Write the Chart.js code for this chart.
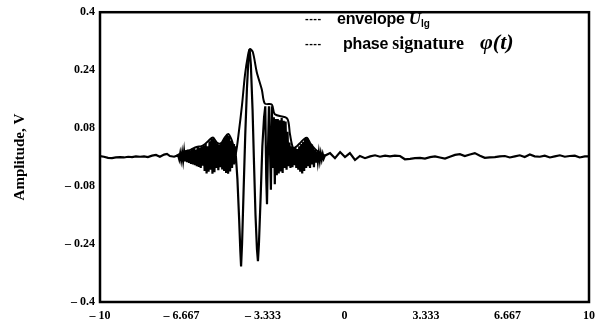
<!DOCTYPE html>
<html lang="en">
<head>
    <meta charset="UTF-8">
    <title>Amplitude vs time</title>
    <style>
        html, body { margin: 0; padding: 0; background: #fff; }
        .wrap { position: relative; width: 603px; height: 324px; }
        .key { position: absolute; left: 305px; color: #000; white-space: nowrap; line-height: 1; }
        .key .dash { display: inline-block; width: 22px; font: bold 11px "Liberation Sans", sans-serif; letter-spacing: 0.5px; vertical-align: 2px; margin-right: 10px; }
        .key .sans { font: bold 16px "Liberation Sans", Arial, sans-serif; letter-spacing: -0.2px; }
        .key .serif { font: bold 18px "Liberation Serif", "Times New Roman", serif; }
        .key .it { font: italic bold 17px "Liberation Serif", serif; }
        .key sub { font: bold 10px "Liberation Sans", sans-serif; vertical-align: -3px; }
        .key .phi { font: italic bold 22px "Liberation Serif", serif; margin-left: 16px; }
    </style>
</head>
<body>
<div class="wrap">
    <canvas id="wave" width="603" height="324"></canvas>
    <div class="key" style="top: 9px;">
        <span class="dash">----</span><span class="sans">envelope</span> <span class="it">U</span><sub>lg</sub>
    </div>
    <div class="key" style="top: 29px;">
        <span class="dash">----</span><span class="sans" style="margin-left:6px">phase</span> <span class="serif">signature</span><span class="phi">&phi;(t)</span>
    </div>
</div>
<script src="https://cdn.jsdelivr.net/npm/chart.js@4.4.1/dist/chart.umd.min.js"></script>
<script>
    // axis ticks
    const timeTicks = [-10, -6.667, -3.333, 0, 3.333, 6.667, 10];
    const ampTicks = [-0.4, -0.24, -0.08, 0.08, 0.24, 0.4];

    // recorded signal, [t, volts]: quiet lead-in
    const quietBefore = [
        [-10.0, 0.003], [-9.84, 0.001], [-9.67, -0.002], [-9.51, -0.003], [-9.35, -0.001],
        [-9.18, 0.000], [-9.02, -0.001], [-8.85, 0.001], [-8.69, 0.000], [-8.53, 0.002],
        [-8.36, 0.001], [-8.20, 0.002], [-8.04, 0.000], [-7.87, 0.004], [-7.71, 0.006],
        [-7.55, 0.001], [-7.38, 0.007], [-7.26, 0.009], [-7.14, 0.003], [-6.97, 0.001],
        [-6.85, 0.004]
    ];

    // precursor ripple
    const precursor = [
        [-6.80, 0.004], [-6.76, -0.006], [-6.72, 0.010], [-6.68, -0.008], [-6.64, 0.012],
        [-6.60, -0.010], [-6.56, 0.015], [-6.52, -0.012], [-6.48, 0.018], [-6.44, -0.014],
        [-6.40, 0.020], [-6.36, -0.016], [-6.32, 0.017], [-6.28, -0.019], [-6.24, 0.022],
        [-6.20, -0.020], [-6.16, 0.024], [-6.12, -0.022], [-6.08, 0.021], [-6.04, -0.025],
        [-6.00, 0.030], [-5.96, -0.027], [-5.92, 0.026], [-5.88, -0.030], [-5.84, 0.028],
        [-5.80, -0.024], [-5.76, 0.032], [-5.72, -0.038], [-5.68, 0.036], [-5.64, -0.045],
        [-5.60, 0.030], [-5.56, -0.040], [-5.52, 0.044], [-5.48, -0.035], [-5.44, 0.050],
        [-5.40, -0.046], [-5.36, 0.053], [-5.32, -0.042], [-5.28, 0.045], [-5.24, -0.030],
        [-5.20, 0.038], [-5.16, -0.036], [-5.12, 0.034], [-5.08, -0.028], [-5.04, 0.040],
        [-5.00, -0.034], [-4.96, 0.046], [-4.92, -0.038], [-4.88, 0.055], [-4.84, -0.044],
        [-4.80, 0.062], [-4.76, -0.046], [-4.72, 0.058], [-4.68, -0.040], [-4.64, 0.045],
        [-4.60, -0.030], [-4.56, 0.036], [-4.52, -0.020], [-4.48, 0.030]
    ];

    // main pulse and its tail
    const mainPulse = [
        [-4.44, 0.000], [-4.38, -0.060], [-4.31, -0.170], [-4.26, -0.260], [-4.23, -0.302],
        [-4.19, -0.240], [-4.13, -0.100], [-4.06, 0.060], [-3.99, 0.190], [-3.93, 0.270],
        [-3.88, 0.298], [-3.83, 0.255], [-3.76, 0.130], [-3.70, -0.020], [-3.64, -0.160],
        [-3.58, -0.255], [-3.54, -0.287], [-3.50, -0.240], [-3.43, -0.110], [-3.36, 0.030],
        [-3.29, 0.110], [-3.24, 0.140], [-3.20, -0.060], [-3.17, -0.130], [-3.13, 0.020],
        [-3.09, 0.140], [-3.05, 0.030], [-3.01, -0.090], [-2.97, 0.140], [-2.93, -0.030],
        [-2.89, 0.110], [-2.85, -0.075], [-2.81, 0.105], [-2.77, -0.050], [-2.73, 0.105],
        [-2.69, -0.045], [-2.65, 0.102], [-2.61, -0.040], [-2.57, 0.108], [-2.53, -0.044],
        [-2.49, 0.100], [-2.45, -0.030], [-2.41, 0.098], [-2.37, -0.035], [-2.33, 0.070],
        [-2.29, -0.025], [-2.25, 0.040], [-2.21, -0.030], [-2.17, 0.030], [-2.13, -0.028],
        [-2.09, 0.025], [-2.05, -0.022], [-2.01, 0.028], [-1.97, -0.030], [-1.93, 0.022],
        [-1.89, -0.035], [-1.85, 0.030], [-1.81, -0.040], [-1.77, 0.036], [-1.73, -0.045],
        [-1.69, 0.042], [-1.65, -0.038], [-1.61, 0.050], [-1.57, -0.030], [-1.53, 0.052],
        [-1.49, -0.025], [-1.45, 0.045], [-1.41, -0.030], [-1.37, 0.035], [-1.33, -0.020],
        [-1.29, 0.025], [-1.25, -0.028], [-1.21, 0.020], [-1.17, -0.015], [-1.13, 0.016],
        [-1.09, -0.012], [-1.05, 0.012], [-1.01, -0.010], [-0.97, 0.010], [-0.93, -0.006],
        [-0.89, 0.008], [-0.85, -0.004]
    ];

    // quiet trailing record
    const quietAfter = [
        [-0.80, 0.004], [-0.59, 0.011], [-0.39, -0.003], [-0.18, 0.014], [0.02, 0.000],
        [0.22, 0.011], [0.43, -0.008], [0.63, 0.003], [0.84, -0.003], [1.05, 0.002],
        [1.25, 0.005], [1.45, 0.001], [1.66, 0.004], [1.86, 0.002], [2.06, 0.004],
        [2.27, 0.003], [2.47, -0.006], [2.68, -0.005], [2.88, -0.003], [3.09, -0.002],
        [3.29, -0.004], [3.50, 0.000], [3.70, 0.002], [3.90, -0.001], [4.11, -0.004],
        [4.31, 0.001], [4.52, 0.006], [4.72, 0.008], [4.92, 0.003], [5.13, 0.007],
        [5.33, 0.011], [5.54, 0.004], [5.74, -0.002], [5.94, -0.001], [6.15, 0.000],
        [6.35, 0.002], [6.56, 0.003], [6.76, -0.001], [6.97, 0.002], [7.17, 0.005],
        [7.37, 0.000], [7.58, 0.007], [7.78, 0.002], [7.99, 0.001], [8.19, 0.004],
        [8.40, -0.001], [8.60, 0.002], [8.81, 0.005], [9.01, 0.001], [9.21, 0.003],
        [9.42, 0.004], [9.62, -0.001], [9.83, 0.002], [10.0, 0.002]
    ];

    // upper envelope U_lg over the active part of the record
    const envelope = [
        [-6.85, 0.004], [-6.60, 0.014], [-6.30, 0.020], [-6.05, 0.028], [-5.85, 0.030],
        [-5.70, 0.036], [-5.55, 0.046], [-5.38, 0.054], [-5.22, 0.040], [-5.05, 0.038],
        [-4.90, 0.054], [-4.76, 0.064], [-4.62, 0.048], [-4.50, 0.020], [-4.45, 0.008],
        [-4.32, 0.070], [-4.19, 0.145], [-4.07, 0.227], [-3.95, 0.280], [-3.87, 0.298],
        [-3.75, 0.290], [-3.59, 0.235], [-3.38, 0.186], [-3.26, 0.148], [-2.97, 0.145],
        [-2.85, 0.118], [-2.35, 0.107], [-2.23, 0.063], [-2.10, 0.025], [-1.95, 0.030],
        [-1.80, 0.040], [-1.65, 0.050], [-1.53, 0.053], [-1.40, 0.038], [-1.20, 0.022],
        [-1.00, 0.012], [-0.80, 0.004]
    ];

    function toPoints(rows) {
        return rows.map(r => ({ x: r[0], y: r[1] }));
    }

    function tickText(v) {
        return v < 0 ? '\u2013 ' + Math.abs(v) : String(v);
    }

    const labelFont = { family: '"Liberation Serif", "Times New Roman", serif', size: 12, weight: 'bold' };

    // black box around the plot area
    const frame = {
        id: 'frame',
        afterDraw(chart) {
            const a = chart.chartArea;
            const c = chart.ctx;
            c.save();
            c.strokeStyle = '#000';
            c.lineWidth = 2.5;
            c.strokeRect(a.left, a.top, a.right - a.left, a.bottom - a.top);
            c.restore();
        }
    };

    const signal = quietBefore.concat(precursor, mainPulse, quietAfter);

    new Chart(document.getElementById('wave'), {
        type: 'scatter',
        data: {
            datasets: [
                {
                    label: 'phase signature',
                    data: toPoints(signal),
                    showLine: true,
                    borderColor: '#000',
                    borderWidth: 2.2,
                    pointRadius: 0,
                    tension: 0
                },
                {
                    label: 'envelope',
                    data: toPoints(envelope),
                    showLine: true,
                    borderColor: '#000',
                    borderWidth: 2,
                    pointRadius: 0,
                    tension: 0.3
                }
            ]
        },
        options: {
            responsive: false,
            animation: false,
            layout: { padding: { top: 10, right: 14, left: 0, bottom: 0 } },
            plugins: { legend: { display: false }, tooltip: { enabled: false } },
            scales: {
                x: {
                    type: 'linear',
                    min: -10,
                    max: 10,
                    grid: { display: false, drawTicks: false },
                    border: { display: false },
                    afterBuildTicks: s => { s.ticks = timeTicks.map(v => ({ value: v })); },
                    afterFit: s => { s.height = 22; },
                    ticks: { color: '#000', font: labelFont, padding: 7, maxRotation: 0, autoSkip: false, callback: tickText }
                },
                y: {
                    type: 'linear',
                    min: -0.4,
                    max: 0.4,
                    grid: { display: false, drawTicks: false },
                    border: { display: false },
                    afterBuildTicks: s => { s.ticks = ampTicks.map(v => ({ value: v })); },
                    afterFit: s => { s.width = 100; },
                    ticks: { color: '#000', font: labelFont, padding: 5, autoSkip: false, callback: tickText },
                    title: {
                        display: true,
                        text: 'Amplitude, V',
                        color: '#000',
                        font: { family: '"Liberation Serif", "Times New Roman", serif', size: 15, weight: 'bold' },
                        padding: { top: 11, bottom: 0 }
                    }
                }
            }
        },
        plugins: [frame]
    });
</script>
</body>
</html>
